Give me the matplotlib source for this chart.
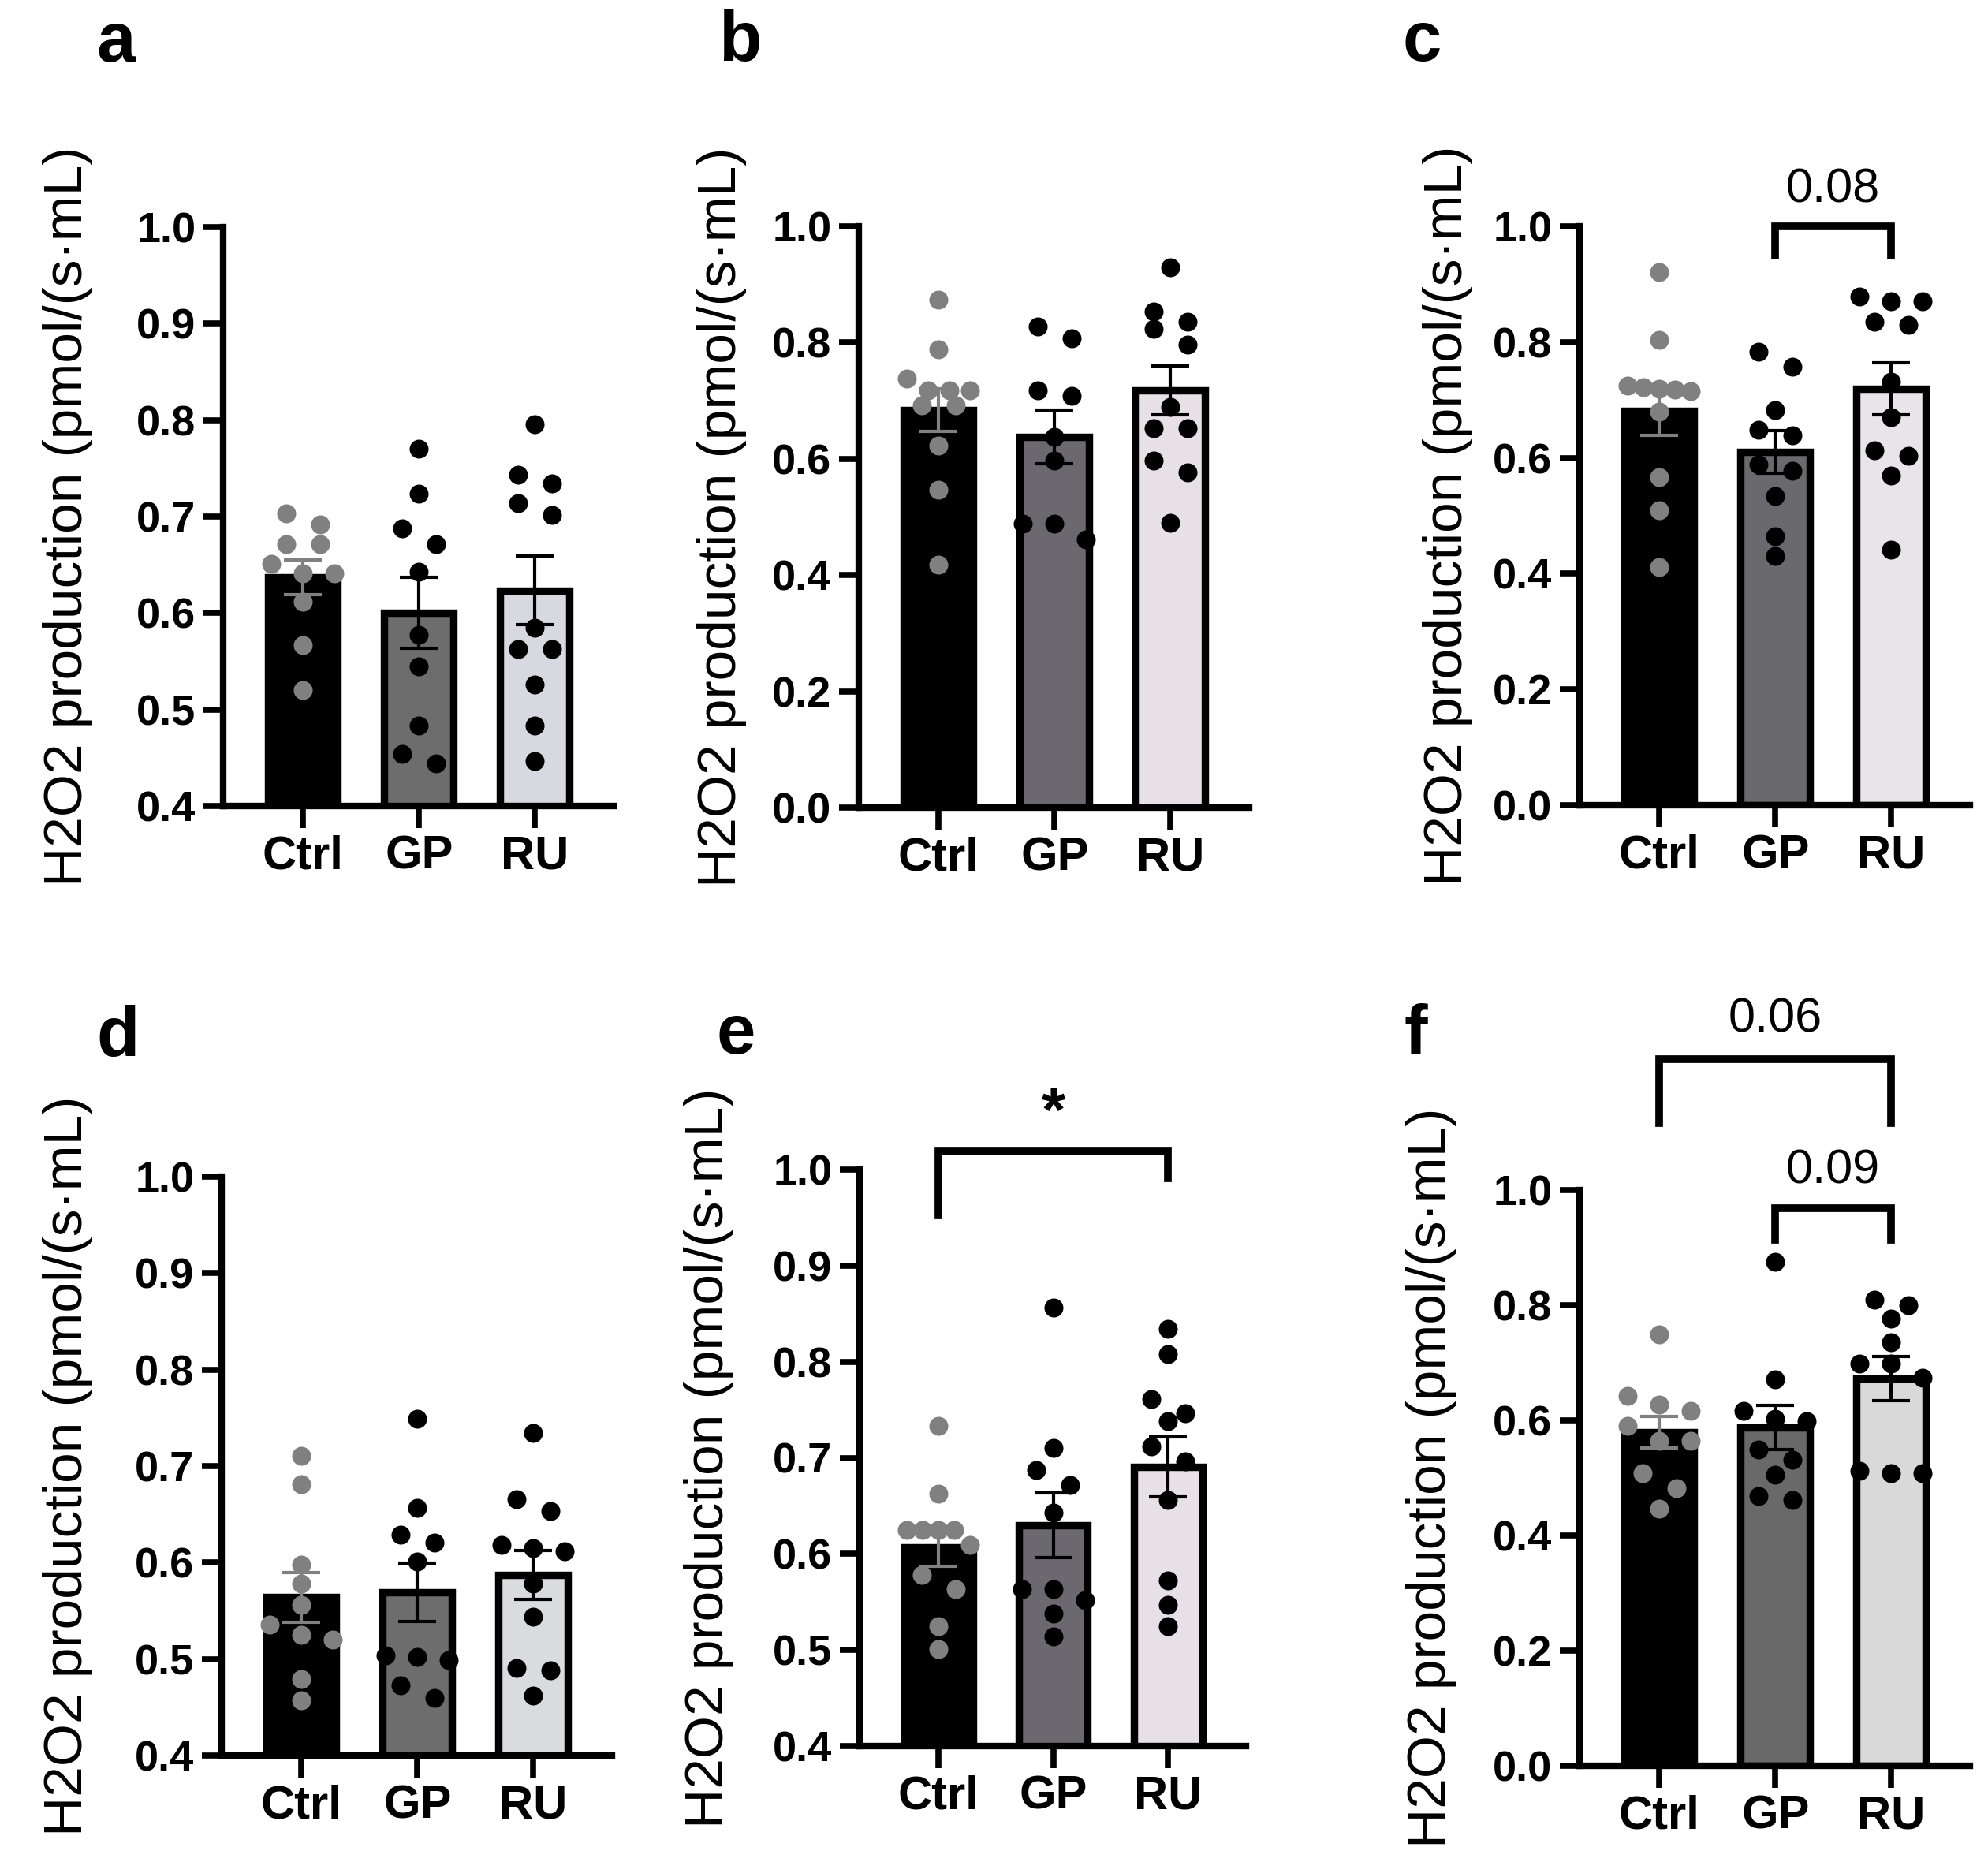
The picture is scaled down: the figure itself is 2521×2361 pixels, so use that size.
import numpy as np
import matplotlib.pyplot as plt
from matplotlib.ticker import MultipleLocator, FormatStrFormatter

plt.rcParams['font.family'] = ['Liberation Sans', 'DejaVu Sans']

groups = ['Ctrl', 'GP', 'RU']
ylabel = 'H2O2 production (pmol/(s·mL)'

# values, one list per group and panel
a_ctrl = [0.703, 0.692, 0.671, 0.671, 0.651, 0.641, 0.641, 0.612, 0.567, 0.520]
a_gp = [0.770, 0.724, 0.688, 0.671, 0.643, 0.577, 0.545, 0.483, 0.444, 0.454]
a_ru = [0.796, 0.743, 0.734, 0.714, 0.702, 0.585, 0.563, 0.563, 0.526, 0.483, 0.447]

b_ctrl = [0.874, 0.788, 0.738, 0.718, 0.718, 0.718, 0.692, 0.692, 0.623, 0.547, 0.418]
b_gp = [0.828, 0.807, 0.718, 0.708, 0.638, 0.597, 0.489, 0.489, 0.462]
b_ru = [0.930, 0.853, 0.836, 0.823, 0.797, 0.689, 0.653, 0.653, 0.597, 0.576, 0.490]

c_ctrl = [0.921, 0.804, 0.725, 0.722, 0.720, 0.718, 0.715, 0.680, 0.567, 0.510, 0.412]
c_gp = [0.784, 0.758, 0.682, 0.649, 0.639, 0.588, 0.577, 0.534, 0.464, 0.431]
c_ru = [0.879, 0.871, 0.871, 0.835, 0.830, 0.732, 0.670, 0.613, 0.603, 0.569, 0.441]

d_ctrl = [0.711, 0.681, 0.598, 0.578, 0.556, 0.536, 0.525, 0.520, 0.479, 0.457]
d_gp = [0.749, 0.657, 0.629, 0.621, 0.601, 0.504, 0.502, 0.499, 0.473, 0.460]
d_ru = [0.734, 0.666, 0.653, 0.618, 0.615, 0.612, 0.578, 0.544, 0.491, 0.488, 0.462]

e_ctrl = [0.733, 0.663, 0.625, 0.625, 0.625, 0.625, 0.609, 0.578, 0.563, 0.525, 0.501]
e_gp = [0.856, 0.710, 0.687, 0.672, 0.643, 0.563, 0.563, 0.552, 0.538, 0.514]
e_ru = [0.834, 0.808, 0.761, 0.746, 0.738, 0.712, 0.696, 0.656, 0.572, 0.547, 0.525]

f_ctrl = [0.749, 0.642, 0.627, 0.617, 0.591, 0.565, 0.565, 0.508, 0.482, 0.446]
f_gp = [0.876, 0.671, 0.617, 0.603, 0.599, 0.549, 0.531, 0.506, 0.468, 0.461]
f_ru = [0.810, 0.800, 0.777, 0.736, 0.699, 0.699, 0.674, 0.513, 0.508, 0.508]

W, H = 2521, 2361
fig = plt.figure(figsize=(W / 100, H / 100), dpi=100)

# panel layout in pixels: left, top, width, height
panels = [
    dict(letter='a', data=[a_ctrl, a_gp, a_ru], box=(283, 288, 495, 734), ylim=(0.4, 1.0), step=0.1,
         lab=(122, 78), yl=197, gp='#6d6d6d', ru='#d8d8e0', brackets=[]),
    dict(letter='b', data=[b_ctrl, b_gp, b_ru], box=(1089, 287, 495, 737), ylim=(0.0, 1.0), step=0.2,
         lab=(911, 77), yl=174, gp='#6b6870', ru='#e7e1e7', brackets=[]),
    dict(letter='c', data=[c_ctrl, c_gp, c_ru], box=(2003, 287, 495, 734), ylim=(0.0, 1.0), step=0.2,
         lab=(1778, 77), yl=167, gp='#6a696d', ru='#e8e4ea',
         brackets=[(1, 2, 1.0, 0.95, 0.95, '0.08', 1.041)]),
    dict(letter='d', data=[d_ctrl, d_gp, d_ru], box=(281, 1492, 495, 734), ylim=(0.4, 1.0), step=0.1,
         lab=(122, 1339), yl=195, gp='#6d6d6d', ru='#d9dbdf', brackets=[]),
    dict(letter='e', data=[e_ctrl, e_gp, e_ru], box=(1090, 1483, 490, 731), ylim=(0.4, 1.0), step=0.1,
         lab=(908, 1336), yl=191, gp='#6b6870', ru='#e7e0e6',
         brackets=[(0, 2, 1.019, 0.952, 0.991, '*', 1.057)]),
    dict(letter='f', data=[f_ctrl, f_gp, f_ru], box=(2003, 1509, 495, 730), ylim=(0.0, 1.0), step=0.2,
         lab=(1780, 1336), yl=188, gp='#696969', ru='#d9d9d9',
         brackets=[(0, 2, 1.227, 1.116, 1.116, '0.06', 1.274),
                   (1, 2, 0.968, 0.914, 0.914, '0.09', 1.011)]),
]

DOT = 24  # dot diameter in pixels


def swarm(vals, px_per_y, px_per_x):
    # group dots that would overlap vertically into rows, spread each row sideways
    y = np.asarray(vals) * px_per_y
    order = np.argsort(-y)
    rows = []
    for i in order:
        if rows and abs(y[rows[-1][0]] - y[i]) < DOT * 0.9:
            rows[-1].append(i)
        else:
            rows.append([i])
    off = np.zeros(len(vals))
    for r in rows:
        n = len(r)
        gap = min(1.8 * DOT, 80 / max(n - 1, 1))
        for k, i in enumerate(r):
            off[i] = (k - (n - 1) / 2) * gap / px_per_x
    return off


for p in panels:
    l, t, w, h = p['box']
    ax = fig.add_axes([l / W, 1 - (t + h) / H, w / W, h / H])
    x = np.arange(3)
    xlim = (-0.69, 2.68)
    ax.set_xlim(*xlim)
    ax.set_ylim(*p['ylim'])

    fills = ['black', p['gp'], p['ru']]
    means = [np.mean(v) for v in p['data']]
    sems = [np.std(v, ddof=1) / np.sqrt(len(v)) for v in p['data']]
    ax.bar(x, means, width=0.6, color=fills, edgecolor='black', linewidth=6.8, zorder=1)

    px_per_y = h / (p['ylim'][1] - p['ylim'][0])
    px_per_x = w / (xlim[1] - xlim[0])
    for i, v in enumerate(p['data']):
        dc = '#808080' if i == 0 else 'black'
        ax.scatter(x[i] + swarm(v, px_per_y, px_per_x), v, s=17.3 ** 2, color=dc,
                   linewidths=0, zorder=3, clip_on=False)
        ax.errorbar(x[i], means[i], yerr=sems[i], fmt='none', ecolor=dc,
                    elinewidth=3, capsize=17, capthick=3, zorder=4)

    for x1, x2, ytop, yl1, yl2, txt, ty in p['brackets']:
        ax.plot([x1, x1, x2, x2], [yl1, ytop, ytop, yl2], color='black', lw=7,
                solid_joinstyle='miter', clip_on=False, zorder=5)
        if txt == '*':
            ax.text((x1 + x2) / 2, ty, txt, ha='center', va='center', fontsize=56,
                    fontweight='bold')
        else:
            ax.text((x1 + x2) / 2, ty, txt, ha='center', va='baseline', fontsize=44)

    for s in ['top', 'right']:
        ax.spines[s].set_visible(False)
    for s in ['left', 'bottom']:
        ax.spines[s].set_linewidth(6)
        ax.spines[s].set_zorder(6)

    ax.yaxis.set_major_locator(MultipleLocator(p['step']))
    ax.yaxis.set_major_formatter(FormatStrFormatter('%.1f'))
    ax.tick_params(axis='y', length=18, width=5.5, pad=7, labelsize=39)
    ax.tick_params(axis='x', length=20, width=5.5, pad=6, labelsize=43)
    ax.set_xticks(x)
    ax.set_xticklabels(groups)
    for lbl in ax.get_xticklabels() + ax.get_yticklabels():
        lbl.set_fontweight('bold')

    ax.text(-p['yl'] / w, 0.5, ylabel, transform=ax.transAxes, rotation=90,
            ha='center', va='center', fontsize=50)
    fig.text(p['lab'][0] / W, 1 - p['lab'][1] / H, p['letter'], ha='left',
             va='baseline', fontsize=64, fontweight='bold')

fig.savefig('out.png', dpi=100, facecolor='white')
